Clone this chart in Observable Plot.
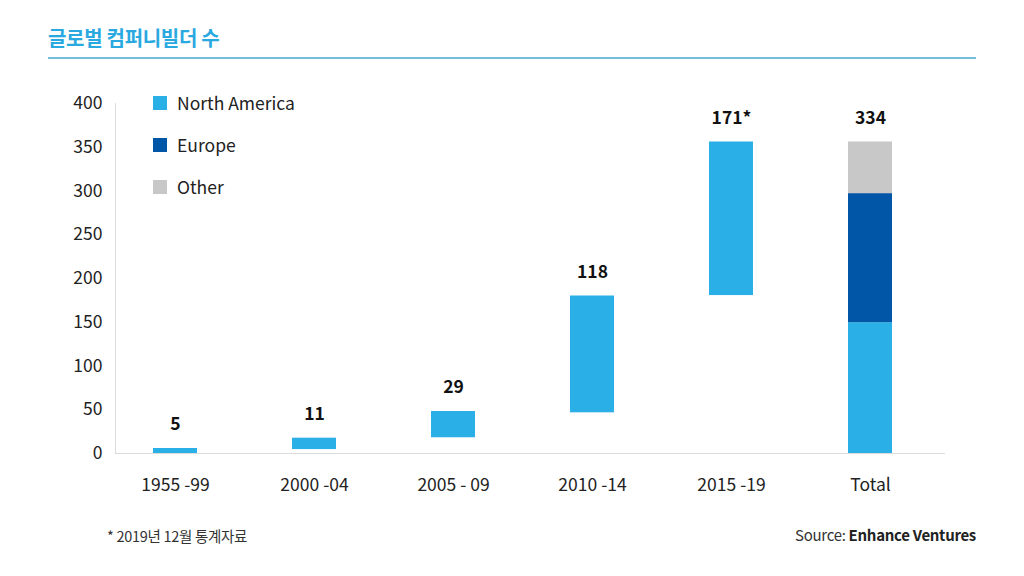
<!DOCTYPE html>
<html>
<head>
<meta charset="utf-8">
<script src="https://cdn.jsdelivr.net/npm/d3@7"></script>
<script src="https://cdn.jsdelivr.net/npm/@observablehq/plot@0.6"></script>
<style>
  body { margin: 0; background: #fff; font-family: "Noto Sans CJK KR", "Noto Sans", sans-serif; }
  #wrap { position: relative; width: 1024px; height: 576px; overflow: hidden; }
  #title { position: absolute; left: 48px; top: 23px; font-size: 20px; font-weight: 700; color: #2aa9e0; letter-spacing: -0.3px; }
  #rule { position: absolute; left: 48px; top: 57px; width: 928px; height: 2px; background: #74bedb; }
  #chart { position: absolute; left: 0; top: 70px; }
  #legend { position: absolute; left: 153px; top: 92px; font-size: 17.5px; color: #222; }
  .li { display: flex; align-items: center; height: 21px; margin-bottom: 21px; }
  .li span.sw { display: inline-block; width: 14px; height: 14px; margin-right: 10px; }
  #note { position: absolute; left: 107px; top: 525px; font-size: 14.5px; color: #333; letter-spacing: -0.3px; }
  #source { position: absolute; right: 48px; top: 524px; font-size: 15px; color: #333; letter-spacing: -0.3px; }
  #source b { color: #222; }
</style>
</head>
<body>
<div id="wrap">
  <div id="title">글로벌 컴퍼니빌더 수</div>
  <div id="rule"></div>
  <div id="chart"></div>
  <div id="legend"></div>
  <div id="note">* 2019년 12월 통계자료</div>
  <div id="source">Source: <b>Enhance Ventures</b></div>
</div>
<script>
// Data
const categories = ["1955 -99", "2000 -04", "2005 - 09", "2010 -14", "2015 -19", "Total"];
const valueLabels = ["5", "11", "29", "118", "171*", "334"];
// waterfall segments (North America) for the periods
const periodLows  = [0, 4.5, 18, 46.5, 180.5];
const periodHighs = [5.7, 17.5, 48, 180, 356];
// Total stacked bar
const regions = ["North America", "Europe", "Other"];
const totalLows  = [0, 149.5, 297];
const totalHighs = [149.5, 297, 356];
const regionColors = ["#2aafe6", "#0256a8", "#c8c8c8"];
const yTicks = [0, 50, 100, 150, 200, 250, 300, 350, 400];

const segments = [
  ...periodLows.map((lo, i) => ({cat: categories[i], region: regions[0], lo, hi: periodHighs[i]})),
  ...regions.map((r, i) => ({cat: categories[5], region: r, lo: totalLows[i], hi: totalHighs[i]}))
];
const labels = categories.map((c, i) => ({
  cat: c,
  label: valueLabels[i],
  top: i < 5 ? periodHighs[i] : totalHighs[totalHighs.length - 1]
}));

const chart = Plot.plot({
  width: 1024,
  height: 440,
  marginLeft: 115,
  marginRight: 79,
  marginTop: 33,
  marginBottom: 57,
  style: { fontFamily: "'Noto Sans CJK KR', 'Noto Sans', sans-serif", color: "#222", background: "transparent" },
  x: { domain: categories, paddingInner: 0.683, paddingOuter: 0.327, align: 0.418, label: null },
  y: { domain: [0, 400], ticks: yTicks, label: null },
  color: { domain: regions, range: regionColors },
  marks: [
    Plot.frame({ anchor: "left", stroke: "#dcdcdc" }),
    Plot.ruleY([0], { stroke: "#dcdcdc" }),
    Plot.barY(segments, { x: "cat", y1: "lo", y2: "hi", fill: "region" }),
    Plot.text(labels, { x: "cat", y: "top", text: "label", dy: -24, fontSize: 17.5, fontWeight: 700, fill: "#111" }),
    Plot.axisY({ ticks: yTicks, tickSize: 0, tickPadding: 13, fontSize: 17.5, label: null }),
    Plot.axisX({ tickSize: 0, tickPadding: 25, fontSize: 17.5, label: null })
  ]
});
document.getElementById("chart").appendChild(chart);

const legend = document.getElementById("legend");
regions.forEach((r, i) => {
  const d = document.createElement("div");
  d.className = "li";
  d.innerHTML = `<span class="sw" style="background:${regionColors[i]}"></span>${r}`;
  legend.appendChild(d);
});
</script>
</body>
</html>
